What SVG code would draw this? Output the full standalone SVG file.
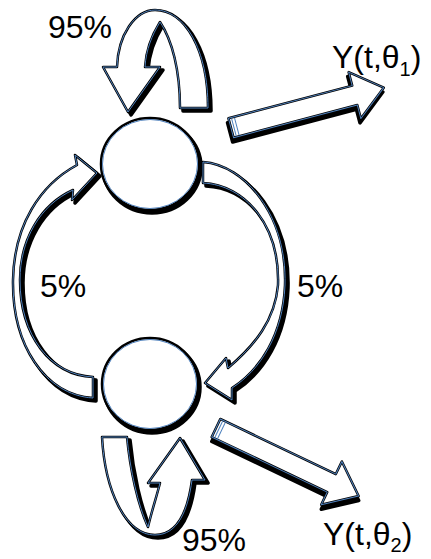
<svg xmlns="http://www.w3.org/2000/svg" width="431" height="559" viewBox="0 0 431 559">
<style>
.shadow{fill:#000;stroke:#000;stroke-width:3.5;stroke-linejoin:round}
.body{fill:#fff;stroke:#000;stroke-width:2.5;stroke-linejoin:round}
.hl{fill:none;stroke:#4f81bd;stroke-width:1;stroke-linejoin:round}
.lbl{font-family:"Liberation Sans","DejaVu Sans",sans-serif;font-size:32px;fill:#000}
</style>
<defs>
<path id="loopTop" d="M128,112 L103,67 L117,67 C118,35 135,10 155,10 C185,10 208,50 208,108 L180,108 C180,70 172,40 160,22 C152,35 146,50 145,67 L160,67 Z"/>
<path id="loopBot" d="M102,437 L127,437 C130,470 138,505 148,527 C152,510 157,495 160,483 L148,483 L180,438 L205,480 L192,480 C188,510 178,535 155,535 C125,535 105,490 102,437 Z"/>
<path id="arcRight" d="M203,162 C245,165 287,215 285,285 C283,335 260,370 232,388 L232,400 L205,383 L226,358 L228,368 C255,345 275,320 278,285 C280,225 245,185 203,183 Z"/>
<path id="arcLeft" d="M93,398 C45,395 12,345 13,280 C14,225 40,185 77,165 L75,155 L97,173 L72,200 L73,190 C40,205 20,240 20,280 C20,335 50,375 93,377 Z"/>
<path id="straight" d="M0,-10 L128,-10 L128,-24 L158,0 L128,24 L128,10 L0,10 Z"/>
</defs>
<g id="node-top">
<ellipse class="shadow" cx="152" cy="167" rx="49" ry="46"/>
<ellipse class="body" cx="150" cy="164" rx="49" ry="46"/>
<ellipse class="hl" cx="150" cy="164" rx="47.5" ry="44.5"/>
</g>
<g id="node-bottom">
<ellipse class="shadow" cx="152" cy="387" rx="48" ry="46"/>
<ellipse class="body" cx="150" cy="384" rx="48" ry="46"/>
<ellipse class="hl" cx="150" cy="384" rx="46.5" ry="44.5"/>
</g>
<g id="connectors">
<g id="self-top">
<use href="#loopTop" class="shadow" transform="translate(3,3)"/>
<use href="#loopTop" class="body"/>
<use href="#loopTop" class="hl"/>
</g>
<g id="self-bottom">
<use href="#loopBot" class="shadow" transform="translate(3,3)"/>
<use href="#loopBot" class="body"/>
<use href="#loopBot" class="hl"/>
</g>
<g id="top-to-bottom">
<use href="#arcRight" class="shadow" transform="translate(3,3)"/>
<use href="#arcRight" class="body"/>
<use href="#arcRight" class="hl"/>
</g>
<g id="bottom-to-top">
<use href="#arcLeft" class="shadow" transform="translate(3,3)"/>
<use href="#arcLeft" class="body"/>
<use href="#arcLeft" class="hl"/>
</g>
<g id="out-top" transform="translate(231,128) rotate(-14.8)">
<use href="#straight" class="shadow" transform="translate(-2,4)"/>
<use href="#straight" class="body"/>
<use href="#straight" class="hl"/>
<line x1="3" y1="-9" x2="3" y2="9" stroke="#4f81bd" stroke-width="1"/>
<line x1="6" y1="-9" x2="6" y2="9" stroke="#4f81bd" stroke-width="1"/>
</g>
<g id="out-bottom" transform="translate(216,428) rotate(25.5)">
<use href="#straight" class="shadow" transform="translate(2,4)"/>
<use href="#straight" class="body"/>
<use href="#straight" class="hl"/>
<line x1="3" y1="-9" x2="3" y2="9" stroke="#4f81bd" stroke-width="1"/>
<line x1="6" y1="-9" x2="6" y2="9" stroke="#4f81bd" stroke-width="1"/>
</g>
</g>
<g id="labels">
<text class="lbl" x="48" y="38">95%</text>
<text class="lbl" x="182" y="551">95%</text>
<text class="lbl" x="40" y="297">5%</text>
<text class="lbl" x="297" y="297">5%</text>
<text class="lbl" x="332" y="68">Y(t,θ<tspan font-size="20" dy="8">1</tspan><tspan dy="-8">)</tspan></text>
<text class="lbl" x="323" y="545">Y(t,θ<tspan font-size="20" dy="7">2</tspan><tspan dy="-7">)</tspan></text>
</g>
</svg>
